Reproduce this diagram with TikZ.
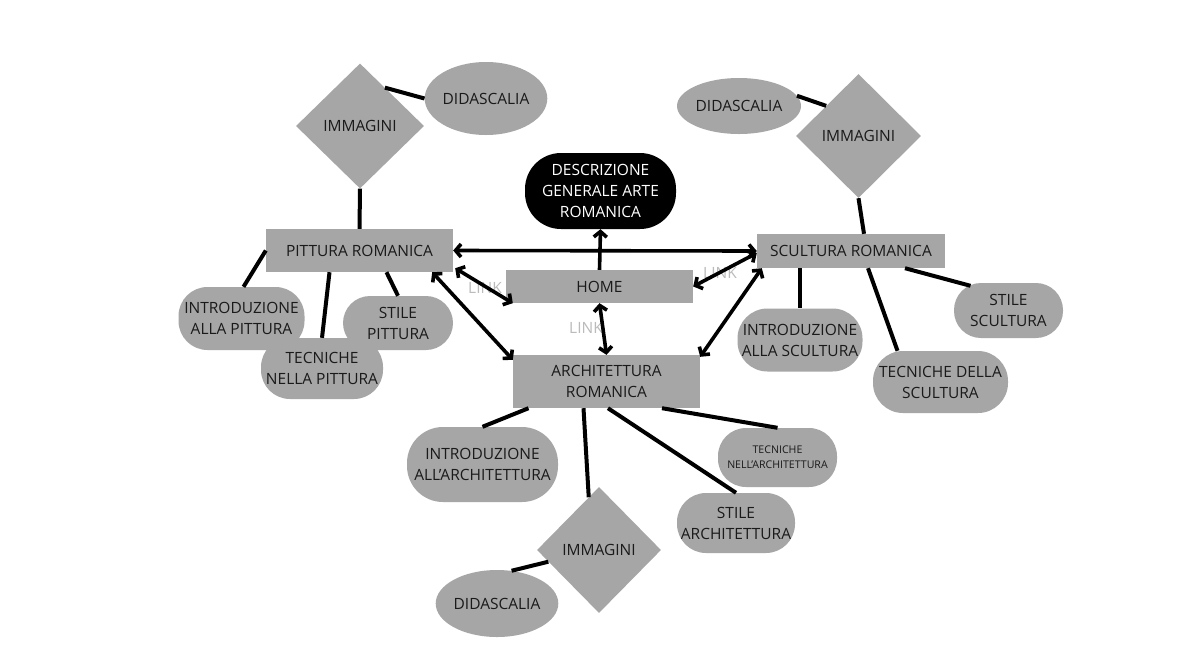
\documentclass[tikz,border=0pt]{standalone}
\usepackage{fontspec}
\setmainfont{Open Sans}
\usetikzlibrary{shapes.geometric,arrows.meta}
\definecolor{boxgray}{HTML}{A6A6A6}
\definecolor{txtdark}{HTML}{1A1A1A}
\definecolor{linkgray}{HTML}{BBBBBB}
\newcommand\fsmain{\fontsize{15.5}{21}\selectfont}
\newcommand\fssmall{\fontsize{10.6}{15}\selectfont}
\tikzset{
  box/.style={fill=boxgray, draw=none, inner sep=0pt, align=center, text=txtdark, font=\fsmain},
  rbox/.style={box, rectangle, minimum width=#1},
  pill/.style={box, rectangle, rounded corners=#1},
  dia/.style={box, diamond, aspect=1},
  ell/.style={box, ellipse},
  conn/.style={line width=4pt, black},
  dbl/.style={line width=3.6pt, black, {Straight Barb[length=5.5pt,width=13pt]}-{Straight Barb[length=5.5pt,width=13pt]}},
  sgl/.style={line width=3.6pt, black, -{Straight Barb[length=5.5pt,width=13pt]}},
  linklab/.style={text=linkgray, font=\fsmain, inner sep=0pt}
}
\begin{document}
\begin{tikzpicture}[x=1pt,y=-1pt]
\useasboundingbox[fill=white] (0,0) rectangle (1195,657);
% main nodes
\node[rbox=187pt, minimum height=43pt] (pit) at (359.5,250.5) {PITTURA ROMANICA};
\node[pill=36pt, fill=black, text=white, minimum width=151pt, minimum height=76pt] (desc) at (600.5,191) {DESCRIZIONE\\GENERALE ARTE\\ROMANICA};
\node[rbox=187pt, minimum height=33pt] (home) at (599.5,286.5) {HOME};
\node[rbox=188pt, minimum height=34pt] (scu) at (851,251) {SCULTURA ROMANICA};
\node[rbox=187pt, minimum height=53pt] (arc) at (606.5,381.5) {ARCHITETTURA\\ROMANICA};
% left group
\node[dia, minimum width=128pt, minimum height=125pt] (dimL) at (360,126) {IMMAGINI};
\node[ell, minimum width=122pt, minimum height=73pt] (didL) at (486,98.5) {DIDASCALIA};
\node[pill=29pt, minimum width=126pt, minimum height=63pt] (intP) at (241.5,318.5) {INTRODUZIONE\\ALLA PITTURA};
\node[pill=27pt, minimum width=110pt, minimum height=54pt] (stiP) at (398,323) {STILE\\PITTURA};
\node[pill=29pt, minimum width=122pt, minimum height=61pt] (tecP) at (322,368.5) {TECNICHE\\NELLA PITTURA};
% right group
\node[dia, minimum width=125pt, minimum height=124pt] (dimR) at (858.5,136) {IMMAGINI};
\node[ell, minimum width=124pt, minimum height=56pt] (didR) at (739,106) {DIDASCALIA};
\node[pill=30pt, minimum width=125pt, minimum height=63pt] (intS) at (800,340) {INTRODUZIONE\\ALLA SCULTURA};
\node[pill=30pt, minimum width=135pt, minimum height=62pt] (tecS) at (940.5,382) {TECNICHE DELLA\\SCULTURA};
\node[pill=27pt, minimum width=109pt, minimum height=55pt] (stiS) at (1008.5,310.5) {STILE\\SCULTURA};
% bottom group
\node[pill=36pt, minimum width=151pt, minimum height=75pt] (intA) at (482.5,464.5) {INTRODUZIONE\\ALL’ARCHITETTURA};
\node[dia, minimum width=124pt, minimum height=126pt] (dimA) at (599,550) {IMMAGINI};
\node[ell, minimum width=120pt, minimum height=67pt] (didA) at (497,603.5) {DIDASCALIA};
\node[pill=28pt, minimum width=119pt, minimum height=59pt, font=\fssmall] (tecA) at (777.5,457.5) {TECNICHE\\NELL’ARCHITETTURA};
\node[pill=29pt, minimum width=118pt, minimum height=60pt] (stiA) at (736,523) {STILE\\ARCHITETTURA};
% link labels
\node[linklab] (l1) at (485,288) {LINK};
\node[linklab] (l2) at (720,273) {LINK};
\node[linklab] (l3) at (586,328) {LINK};
% plain connectors
\draw[conn] (dimL.57) -- (didL.west);
\draw[conn] (dimL.south) -- (pit.north);
\draw[conn] (pit.west) -- ([xshift=2pt]intP.north);
\draw[conn] ([xshift=-30pt]pit.south) -- (tecP.north);
\draw[conn] ([xshift=27pt]pit.south) -- (stiP.north);
\draw[conn] (didR.10) -- (dimR.137);
\draw[conn] (dimR.south) -- ([xshift=13pt]scu.north);
\draw[conn] ([xshift=-51pt]scu.south) -- (intS.north);
\draw[conn] ([xshift=17pt]scu.south) -- ([xshift=-43pt]tecS.north);
\draw[conn] ([xshift=54pt]scu.south) -- ([xshift=-38pt,yshift=-3pt]stiS.north);
\draw[conn] ([xshift=-78pt]arc.south) -- (intA.north);
\draw[conn] ([xshift=-23pt]arc.south) -- (dimA.101);
\draw[conn] (dimA.193) -- (didA.66);
\draw[conn] ([xshift=1.5pt]arc.south) -- (stiA.north);
\draw[conn] ([xshift=55.5pt]arc.south) -- (tecA.north);
% arrows
\draw[dbl] (pit.east) -- (scu.west);
\draw[sgl] (home.north) -- (desc.south);
\draw[dbl] ([xshift=2pt,yshift=4pt]pit.south east) -- ([xshift=7pt]home.south west);
\draw[dbl] (home.east) -- ([yshift=-2pt]scu.west);
\draw[dbl] (home.south) -- (arc.north);
\draw[dbl] ([xshift=-21pt]pit.south east) -- ([yshift=-5pt]arc.north west);
\draw[dbl] ([xshift=5pt]scu.south west) -- ([yshift=-2pt]arc.north east);
\end{tikzpicture}
\end{document}
